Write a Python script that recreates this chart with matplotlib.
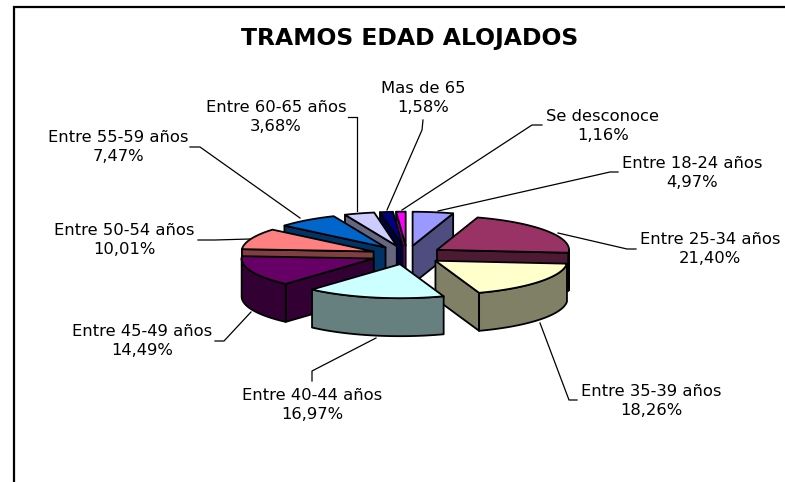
#!/usr/bin/env python3
# Exploded 3D-look pie drawn by hand, matplotlib has no real 3D pie
import numpy as np
import matplotlib
matplotlib.use('Agg')
import matplotlib.pyplot as plt
from matplotlib.patches import Polygon

title = "TRAMOS EDAD ALOJADOS"
categories = ["Entre 18-24 años", "Entre 25-34 años", "Entre 35-39 años",
              "Entre 40-44 años", "Entre 45-49 años", "Entre 50-54 años",
              "Entre 55-59 años", "Entre 60-65 años", "Mas de 65", "Se desconoce"]
values = [4.97, 21.40, 18.26, 16.97, 14.49, 10.01, 7.47, 3.68, 1.58, 1.16]
colors = ["#9999FF", "#993366", "#FFFFCC", "#CCFFFF", "#660066",
          "#FF8080", "#0066CC", "#CCCCFF", "#000080", "#FF00FF"]
wall_colors = ["#4D4D80", "#4D1A33", "#808066", "#668080", "#330033",
               "#804040", "#003366", "#666680", "#000040", "#800080"]

# label centres, in pixels of the 785x482 picture
label_pos = [(692, 173), (710, 249), (651, 401), (312, 405), (142, 341),
             (124, 240), (118, 147), (276, 117), (423, 98), (603, 126)]
leaders = [[(618, 172), (610, 172), (438, 211)],
           [(636, 249), (627, 249), (558, 233)],
           [(577, 400), (569, 400), (540, 323)],
           [(312, 381), (312, 371), (376, 338)],
           [(215, 341), (224, 341), (251, 312)],
           [(198, 240), (215, 240), (250, 239)],
           [(190, 147), (200, 147), (300, 218)],
           [(348, 117), (357, 117), (357, 211)],
           [(423, 120), (422, 130), (387, 210)],
           [(542, 125), (532, 125), (402, 210)]]

cx, cy = 407, 255
rx, ry = 132, 34
depth = 38
explode = 36
squash = 0.26


def rim(a, tip):
    # a in degrees clockwise from 12 o'clock
    t = np.radians(a)
    return np.column_stack([tip[0] + rx * np.sin(t), tip[1] - ry * np.cos(t)])


fig = plt.figure(figsize=(7.85, 4.82), dpi=100)
ax = fig.add_axes([0, 0, 1, 1])
ax.set_xlim(0, 785)
ax.set_ylim(482, 0)
ax.axis('off')

# frame is cropped: only top and left sides show
ax.plot([785, 14, 14], [7, 7, 482], color='black', lw=1.6, solid_joinstyle='miter')

edges = np.concatenate([[0], np.cumsum(values)]) / sum(values) * 360
slices = []
for i in range(len(values)):
    mid = np.radians((edges[i] + edges[i + 1]) / 2)
    tip = (cx + explode * np.sin(mid), cy - explode * squash * np.cos(mid))
    slices.append((-np.cos(mid), i, tip))

# back to front
for _, i, tip in sorted(slices, key=lambda s: s[0]):
    a1, a2 = edges[i], edges[i + 1]
    style = dict(edgecolor='black', linewidth=1.3, joinstyle='round')
    down = np.array([0, depth])
    for a, show in ((a1, np.sin(np.radians(a1)) < 0), (a2, np.sin(np.radians(a2)) > 0)):
        if show:
            p = rim(np.array([a]), tip)[0]
            ax.add_patch(Polygon([tip, p, p + down, np.array(tip) + down],
                                 facecolor=wall_colors[i], **style))
    lo, hi = max(a1, 90), min(a2, 270)
    if lo < hi:
        arc = rim(np.linspace(lo, hi, 40), tip)
        ax.add_patch(Polygon(np.vstack([arc, (arc + down)[::-1]]),
                             facecolor=wall_colors[i], **style))
    top = np.vstack([[tip], rim(np.linspace(a1, a2, 60), tip)])
    ax.add_patch(Polygon(top, facecolor=colors[i], **style))

for pts in leaders:
    xs, ys = zip(*pts)
    ax.plot(xs, ys, color='black', lw=0.9)

for name, v, (x, y) in zip(categories, values, label_pos):
    pct = f"{v:.2f}".replace('.', ',') + '%'
    ax.text(x, y, name + "\n" + pct, ha='center', va='center', fontsize=11.8,
            family='DejaVu Sans', color='black', linespacing=1.36)

ax.text(409.5, 39, title, ha='center', va='center', fontsize=16.9,
        fontweight='bold', family='DejaVu Sans', color='black')

fig.savefig('out.png', dpi=100)
